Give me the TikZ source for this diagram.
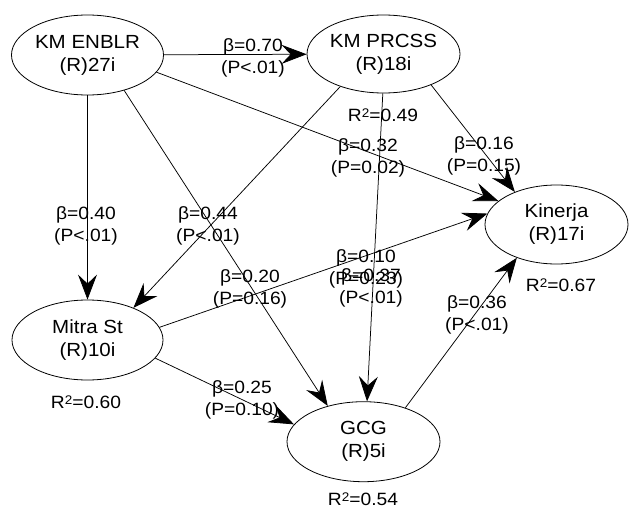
\documentclass[tikz,border=0pt]{standalone}
\usepackage{fontspec}
\setmainfont{Liberation Sans}[FakeStretch=1.08]
\usetikzlibrary{shapes.geometric,arrows.meta}
\newcommand\Rsq{R\raisebox{4.4pt}{\fontsize{12.5}{12.5}\selectfont 2}}
\begin{document}
\begin{tikzpicture}[x=1pt,y=-1pt,
  construct/.style={draw, ellipse, line width=0.8pt, inner sep=0pt,
    minimum width=152pt, minimum height=80pt, align=center,
    font=\fontsize{19}{23}\selectfont},
  link/.style={line width=0.75pt, -{Stealth[length=25pt,width=19pt,inset=9pt]}},
  coef/.style={align=center, inner sep=0pt, font=\fontsize{17.8}{21.5}\selectfont},
  rsq/.style={inner sep=0pt, font=\fontsize{17.8}{21}\selectfont}]
\useasboundingbox (0,0) rectangle (629,511);

% constructs
\node[construct] (enblr) at (87.5,55) {KM ENBLR\\(R)27i};
\node[construct, minimum width=153pt, minimum height=78pt] (prcss) at (383.5,54) {KM PRCSS\\(R)18i};
\node[construct, minimum width=143pt, minimum height=79pt] (kin) at (556.5,224.5) {Kinerja\\(R)17i};
\node[construct, minimum width=151pt] (mitra) at (87.5,340) {Mitra St\\(R)10i};
\node[construct, minimum width=153pt] (gcg) at (363.5,441.7) {GCG\\(R)5i};

% structural paths
\draw[link] (enblr) -- (prcss);
\draw[link] (enblr) -- (mitra);
\draw[link] (enblr.-44) -- (gcg.135);
\draw[link] (enblr.-14) -- (kin.158);
\draw[link] (prcss.-143) -- (mitra.35);
\draw[link] (prcss.-91) -- (gcg.85);
\draw[link] (prcss.-33) -- (kin.142);
\draw[link] (mitra.10) -- (kin.171);
\draw[link] (mitra.-15) -- (gcg.166);
\draw[link] (gcg.39) -- (kin.220);

% path coefficients
\node[coef] (c1) at (253,58) {β=0.70\\(P<.01)};
\node[coef] (c2) at (86,226) {β=0.40\\(P<.01)};
\node[coef] (c3) at (208,226) {β=0.44\\(P<.01)};
\node[coef] (c4) at (368,158) {β=0.32\\(P=0.02)};
\node[coef] (c5) at (484,156) {β=0.16\\(P=0.15)};
\node[coef] (c6) at (250,289) {β=0.20\\(P=0.16)};
\node[coef] (c7) at (366,269) {β=0.10\\(P=0.23)};
\node[coef] (c8) at (371,288) {β=0.37\\(P<.01)};
\node[coef] (c9) at (477,315) {β=0.36\\(P<.01)};
\node[coef] (c10) at (242,400) {β=0.25\\(P=0.10)};

% explained variance
\node[rsq] (r1) at (383,115) {\Rsq=0.49};
\node[rsq] (r2) at (561,285) {\Rsq=0.67};
\node[rsq] (r3) at (86,402) {\Rsq=0.60};
\node[rsq] (r4) at (363,499) {\Rsq=0.54};
\end{tikzpicture}
\end{document}
